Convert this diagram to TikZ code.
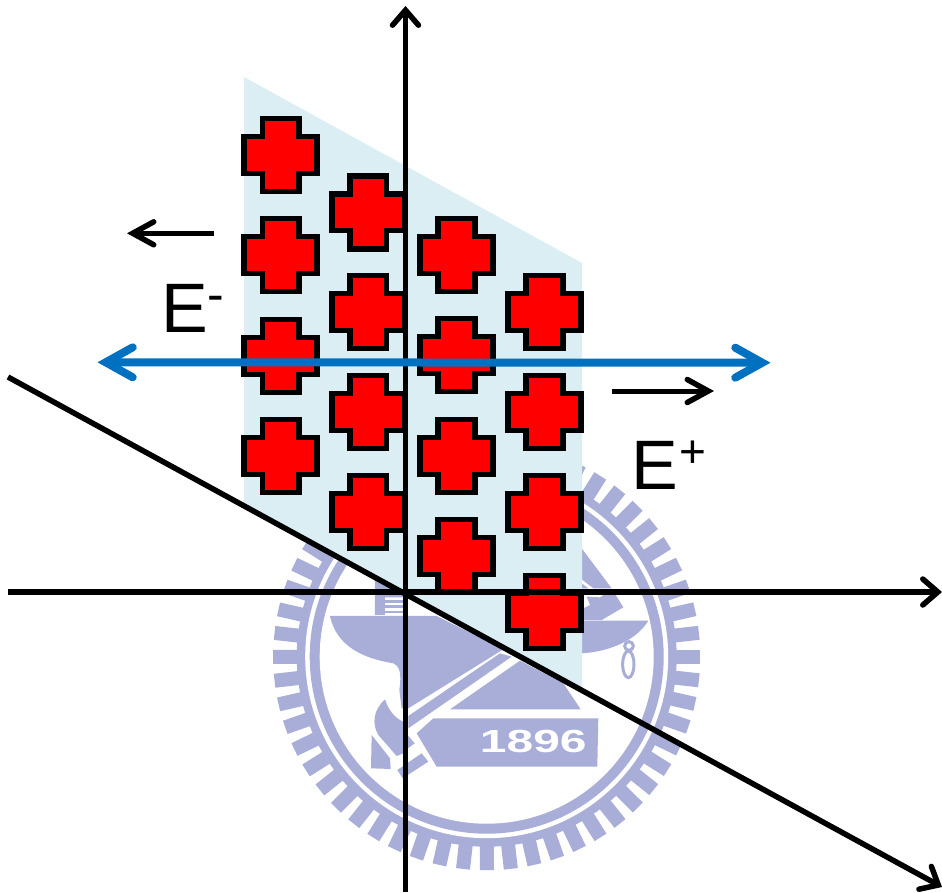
\documentclass[tikz,border=0pt]{standalone}
\usepackage{fontspec}
\usepackage{graphicx}
\setmainfont{Liberation Sans}
\usetikzlibrary{arrows.meta}
\definecolor{logoc}{HTML}{A9AED9}
\definecolor{planec}{HTML}{DAEEF3}
\definecolor{bluec}{HTML}{0070C0}
\tikzset{
  axisline/.style={draw=black,line width=5.5pt,-{Straight Barb[length=15pt,width=26pt,line width=5.5pt,line cap=round,line join=miter]}},
  bluearrow/.style={draw=bluec,line width=8pt,{Straight Barb[length=27pt,width=30pt,line width=8pt,line cap=round,line join=miter]}-{Straight Barb[length=27pt,width=30pt,line width=8pt,line cap=round,line join=miter]}},
  smallarrow/.style={draw=black,line width=5pt,-{Straight Barb[length=21pt,width=23pt,line width=5.5pt,line cap=round,line join=miter]}},
  crossmark/.style={fill=red,draw=black,line width=5.5pt,miter limit=10},
  logofill/.style={fill=logoc,draw=none},
  biglabel/.style={inner sep=0pt,anchor=base west,font=\fontsize{70}{74}\selectfont},
}
\newcommand{\redcross}[2]{%
  \path[crossmark,shift={(#1,#2)}] (-18.3,-36.5) -- (18.3,-36.5) -- (18.3,-18.3) -- (36.5,-18.3) -- (36.5,18.3) -- (18.3,18.3) -- (18.3,36.5) -- (-18.3,36.5) -- (-18.3,18.3) -- (-36.5,18.3) -- (-36.5,-18.3) -- (-18.3,-18.3) -- cycle;}
\begin{document}
\begin{tikzpicture}[x=1pt,y=-1pt]
\useasboundingbox (0,0) rectangle (942,892);
\clip (0,0) rectangle (942,892);
% emblem
\coordinate (logo) at (486.7,656.7);
\foreach \a in {0,6.43,...,359} {
  \fill[logoc,shift={(logo)},rotate=\a] (186,-7) rectangle (213.5,7);
}
\fill[logoc] (logo) circle[radius=190pt];
\fill[white] (logo) circle[radius=181.5pt];
\fill[logoc] (logo) circle[radius=177pt];
\fill[white] (logo) circle[radius=167pt];
\begin{scope}[shift={(270,460)},x=0.3333pt,y=-0.3333pt]
  % left bowl and centre
  \path[logofill] (180,468) -- (500,468) -- (700,568) -- (415,745) -- (395,745) -- (388,690) .. controls (395,640) and (390,620) .. (370,610) .. controls (280,595) and (200,560) .. cycle;
  \path[logofill] (415,768) -- (690,580) -- (725,590) -- (415,805) -- cycle;
  \path[logofill] (540,748) -- (750,602) -- (880,670) -- (932,748) -- cycle;
  % tower
  \path[logofill] (315,360) -- (400,360) -- (400,412) -- (345,412) -- (345,465) -- (315,465) -- cycle;
  \path[logofill] (345,420) rectangle (400,428);
  \path[logofill] (345,436) rectangle (400,444);
  \path[logofill] (345,452) rectangle (400,460);
  % banner
  \path[logofill] (490,775) -- (985,775) -- (982,920) -- (500,920) -- (440,820) -- cycle;
  \node[text=white,inner sep=0pt] (year) at (790,845) {\scalebox{1.5}[1]{\fontsize{32}{32}\bfseries\selectfont 1896}};
  % handle and blade
  \path[logofill] (345,718) .. controls (355,750) and (375,775) .. (400,785) -- (400,880) -- (380,888) -- (325,825) .. controls (305,790) and (310,750) .. cycle;
  \path[logofill] (305,825) -- (360,895) -- (362,927) -- (303,925) -- cycle;
  \path[logofill] (410,822) -- (434,850) -- (410,868) -- cycle;
  \path[logofill] (382,930) -- (455,880) -- (475,905) -- (398,955) -- cycle;
\end{scope}
\begin{scope}[shift={(560,520)},x=0.3333pt,y=-0.3333pt]
  % ship, right bowl and chain
  \path[logofill] (65,85) -- (155,205) -- (100,205) -- (65,178) -- cycle;
  \path[logofill] (65,190) -- (85,205) -- (65,205) -- cycle;
  \path[logofill] (80,230) -- (120,232) -- (135,222) -- (165,222) -- (190,262) -- (125,300) -- (65,300) -- (65,268) -- (90,255) -- cycle;
  \path[logofill] (65,302) -- (265,302) .. controls (230,360) and (150,395) .. (65,400) -- cycle;
  \draw[logoc,line width=3pt] (205,433) ellipse[x radius=17,y radius=40];
  \draw[logoc,line width=3pt] (207,378) circle[radius=13];
\end{scope}
% shaded plane
\coordinate (pa) at (244,77);
\coordinate (pb) at (582,263);
\coordinate (pc) at (582,688);
\coordinate (pd) at (244,505);
\fill[planec] (pa) -- (pb) -- (pc) -- (pd) -- cycle;
% crosses
\foreach \yy in {155,255,356,456} {\redcross{280.6}{\yy}}
\foreach \yy in {212.3,312,412,512} {\redcross{368.4}{\yy}}
\foreach \yy in {255,355,456,556} {\redcross{456.5}{\yy}}
\foreach \yy in {312,412,512,612} {\redcross{544.5}{\yy}}
% axes
\coordinate (vb) at (405.5,892);
\coordinate (vt) at (405.5,6);
\coordinate (hl) at (8,592);
\coordinate (hr) at (942,592);
\coordinate (dl) at (8,377);
\coordinate (dr) at (942,887);
\draw[axisline] (vb) -- (vt);
\draw[axisline] (hl) -- (hr);
\draw[axisline] (dl) -- (dr);
% field arrows
\coordinate (bl) at (97.5,362.3);
\coordinate (br) at (770.5,362.7);
\draw[bluearrow] (bl) -- (br);
\coordinate (sa) at (214.3,233.3);
\coordinate (sb) at (127,233.3);
\draw[smallarrow] (sa) -- (sb);
\coordinate (sc) at (611.7,391);
\coordinate (sd) at (714,391);
\draw[smallarrow] (sc) -- (sd);
% labels
\node[biglabel] (eminus) at (161,332) {E\raisebox{20.5pt}{\fontsize{50}{50}\selectfont -}};
\node[biglabel] (eplus) at (631.5,489) {E\hspace{1pt}\raisebox{22pt}{\fontsize{46}{46}\selectfont +}};
\end{tikzpicture}
\end{document}
